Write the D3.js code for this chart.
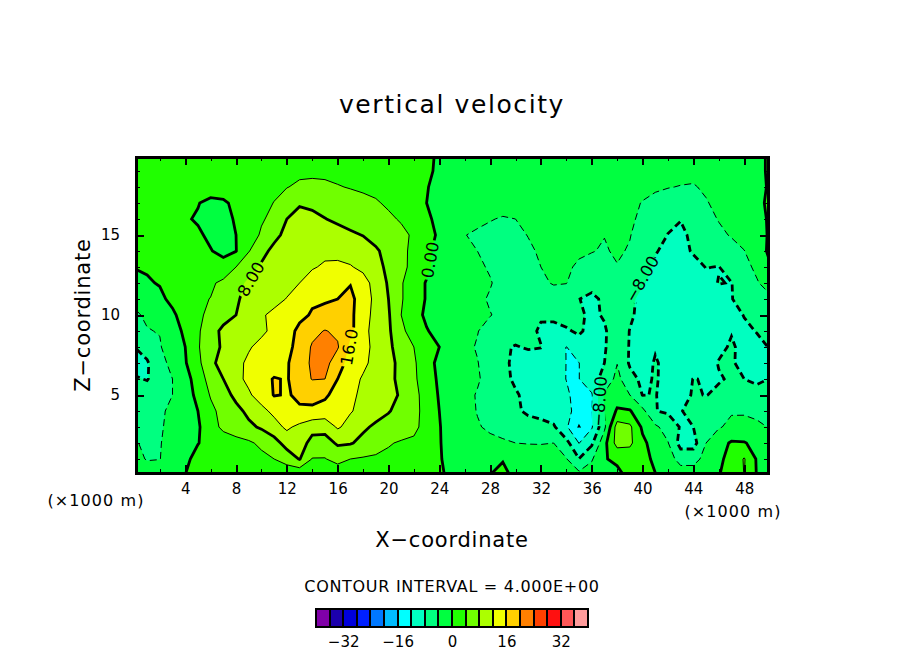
<!DOCTYPE html>
<html>
<head>
<meta charset="utf-8">
<script src="https://cdnjs.cloudflare.com/ajax/libs/d3/7.8.5/d3.min.js"></script>
<style>
	html, body { margin: 0; padding: 0; background: #fff; }
	text { font-family: "DejaVu Sans", sans-serif; fill: #000; }
</style>
</head>
<body>
<div id="chart"></div>
<script>
// vertical velocity, one list per z level (x = 0..50 km)
const w20 = [1.2,1.4,1.5,1.6,1.7,1.8,1.9,2,2.2,2.3,2.4,2.5,2.6,2.7,2.7,2.6,2.5,2.3,2.1,1.9,1.6,1.3,1,0.6,-0.4,-0.8,-1,-1,-1.1,-1.1,-1.2,-1.2,-1.2,-1.2,-1.2,-1.3,-1.3,-1.4,-1.5,-1.6,-1.7,-1.8,-1.8,-1.8,-1.8,-1.7,-1.6,-1.4,-1.1,-0.8,0.4];
const w19 = [1.3,1.5,1.6,1.7,1.8,1.9,2,2.2,2.4,2.6,2.8,3,3.2,3.4,3.4,3.3,3,2.8,2.5,2.2,1.9,1.5,1.1,0.5,-0.5,-1,-1.2,-1.3,-1.4,-1.5,-1.5,-1.5,-1.5,-1.5,-1.5,-1.6,-1.7,-1.8,-2,-2.2,-2.5,-2.8,-3,-3.2,-3.3,-3,-2.6,-2,-1.5,-0.8,0.4];
const w18 = [1,1.1,1.2,1,0.9,1,1.2,1.4,1.8,2.2,2.7,3.2,3.9,4.5,4.7,4.6,4.2,3.8,3.4,3,2.5,1.9,1.3,0.2,-1.1,-1.4,-1.6,-1.7,-1.8,-1.9,-1.9,-1.8,-1.8,-1.8,-1.9,-2,-2.2,-2.4,-2.7,-3,-3.4,-3.7,-3.9,-4.1,-4.2,-3.6,-3,-2.5,-1.8,-0.9,0.3];
const w17 = [0.9,0.9,0.8,0.6,0.3,0.1,-0.6,-0.4,0.6,1.8,3,4.1,5.6,7.7,7.4,6.6,6,5.5,5,4.4,3.4,2.4,1.2,0,-1.3,-1.6,-1.9,-2.1,-2.3,-2.5,-2.5,-2.3,-2.2,-2.1,-2.2,-2.4,-2.7,-3,-3.2,-3.5,-4.1,-4.6,-5.2,-5.6,-5.2,-4.2,-3.3,-2.6,-1.8,-0.7,0.5];
const w16 = [0.8,0.7,0.5,0.3,0.2,-0.2,-1,-0.9,0.3,1.9,3.6,5,8,9,8.7,8.1,7.3,6.8,6.2,5.6,4.7,3.6,2.1,0.8,-1.2,-1.8,-2.4,-3.1,-3.8,-4.3,-4,-3.4,-2.9,-2.6,-2.6,-2.8,-3.1,-3.2,-3.2,-3.6,-4.5,-5.6,-7,-7.9,-7,-5.2,-3.8,-3,-2,-0.9,0.3];
const w15 = [0.6,0.5,0.4,0.2,0.3,0.3,-0.4,-0.9,0,2,4.5,6.8,9.2,10.2,10.3,10,9.4,8.5,7.9,7,6.2,5,3.4,1.4,-0.6,-1.8,-3.9,-4.6,-5,-5.2,-4.7,-3.9,-3.2,-3,-3.2,-3.4,-3.95,-3.95,-3.4,-3.9,-5,-6.3,-8.1,-8.6,-7.4,-6,-4.8,-3.7,-2.6,-1.2,0.3];
const w14 = [0.4,0.3,0.3,0.3,0.4,0.4,0.1,-0.6,-0.1,3.8,6.6,9.2,10.8,11.4,11.6,11.5,11,10.3,9.7,8.4,7,5,3,0.9,-1.3,-2.4,-3.2,-4,-5,-5.6,-5.4,-4.5,-3.6,-3.2,-3.3,-3.6,-3.9,-4.2,-3.7,-4.2,-5.6,-7.8,-8.7,-8.9,-7.7,-6.9,-6.3,-5.4,-4.1,-1.5,0.5];
const w13 = [0.1,0.3,0.6,0.8,0.9,1,1,0.9,4,6.8,8.6,10,10.8,11.2,11.8,12.3,12.7,12.3,11,9.2,7.2,5,2.9,0.9,-1.6,-2.5,-3,-3.5,-4.3,-5.4,-5.6,-5,-4,-3.5,-3.6,-4.4,-4.8,-4.8,-4.1,-4.4,-6.3,-8.5,-9.3,-9.5,-9,-7.9,-8.1,-6.3,-5,-3.3,-0.3];
const w12 = [-0.9,-0.3,0.2,1,1.7,2.5,3.3,5,6.9,8.6,9.7,10.5,11.2,12,13,14,15,15.8,13.7,10.4,7.6,4.3,2.1,-0.3,-1.7,-2.3,-2.7,-3.2,-3.8,-5,-5.7,-5.8,-4.7,-3.7,-3.9,-6,-6.2,-5.2,-5.2,-6,-7.7,-9,-10,-10,-9.6,-8.8,-7.9,-8.1,-6,-4.3,-2.5];
const w11 = [-3.6,-2.6,-0.7,0.8,2,3.3,4.1,6.2,7.6,9,10.2,11.2,12.1,13.5,15.4,15.7,16,17,14,11,8,4.3,2.1,-0.3,-1.6,-2.2,-2.8,-3.4,-4.3,-5.2,-5.6,-5.9,-6,-6,-6.3,-7.9,-9.2,-7,-6.2,-7.2,-9,-10,-10.2,-10.5,-10.3,-9.7,-9.2,-8.1,-7,-5.8,-4.8];
const w10 = [-4.3,-3.7,-2.5,-0.6,1.5,3.3,4.9,6.3,8,10,11.7,12.6,13.4,15,16.4,16.8,17,16.9,13.6,10.8,8.4,4,1.9,-0.9,-1.9,-2.5,-3,-3.5,-3.9,-4.6,-5.4,-6.3,-7.6,-7.4,-7,-7.5,-8.6,-7.7,-6.5,-7.5,-9,-10,-10.4,-10.9,-10.6,-10,-9.5,-8.9,-7.9,-6.6,-5.6];
const w9 = [-5,-4.1,-3.9,-2,0.9,3.5,6.2,9,10,10.8,11.6,12.5,14.3,17,19,20.2,19.3,17,13.2,10.5,8.6,5,2,0.3,-1.5,-2.4,-3.2,-3.9,-5,-6,-6.5,-7,-8.5,-8.8,-8.3,-7.6,-8.9,-8.4,-6,-8.1,-9.2,-10,-10.6,-11.5,-11.2,-10.3,-9.3,-8.2,-8.5,-7.9,-6.8];
const w8 = [-8,-6.5,-4.2,-2.6,0,3.7,6.1,8.7,10,11.8,12.6,13.2,14.8,17.5,20.4,21.5,20.4,15,13.2,11,8.9,6,4,1.9,0,-2,-3.4,-4.2,-5.4,-7.6,-8.2,-7.7,-7.9,-9.2,-12.1,-9.2,-9,-8.3,-6,-8.2,-9.2,-8.2,-8.3,-11.8,-11.5,-10,-8.8,-7.6,-8.9,-8.6,-7.9];
const w7 = [-9.4,-8.4,-5.2,-3,-0.3,3,7,9.6,11.4,12.4,13,13.6,15.6,18.2,20.6,21.5,17.5,14.7,12.8,10.8,9.1,7,4.5,1.7,-1.1,-2.3,-3.2,-3.9,-5.2,-7.2,-8.8,-9.5,-9.7,-10.2,-12.05,-12.05,-9.7,-8,-4.1,-8.5,-9,-7.8,-8.6,-10.2,-10.8,-9.6,-7.8,-7.7,-8.8,-9,-8.7];
const w6 = [-7.6,-8.2,-6,-4,-1.5,1.8,5.6,8,11,12.8,14.4,16.3,15.7,18,20.2,20,16,13.4,11.6,10.2,8.9,7.1,4.7,1.8,-0.6,-2.2,-3,-3.7,-5,-7,-8.6,-9.8,-10.4,-10.9,-12.05,-12.05,-9.6,-6.7,-2.9,-6.7,-8.8,-7.7,-9,-9.8,-7.9,-8.2,-8.3,-7.6,-8,-8.8,-7.9];
const w5 = [-5.4,-6.2,-5,-4,-1.8,1,4.3,6.4,9,11.5,13.6,16.2,15.8,16.4,16.5,16.6,14.6,12.8,11.2,9.9,8.8,7.7,5.3,2.2,-0.3,-2.2,-3.2,-4.2,-5.4,-6.3,-7.6,-9,-10,-10.8,-11.6,-13,-12.4,-3.4,-2,-4,-8.1,-7.9,-8.8,-9.2,-7.7,-8.1,-7.3,-7.7,-7,-6.5,-6];
const w4 = [-5.4,-5.5,-4.6,-3.2,-1.6,0,3.1,5.2,6.9,8.9,11,12.9,14.6,15.7,15.7,14.5,13.6,12.3,10.8,9.4,8.2,7,5.1,2.7,0,-2,-3.2,-4.1,-5.3,-6.2,-7.2,-8.9,-9.7,-10.2,-11,-13.4,-12.3,-4,0.5,0.3,-3,-7.9,-8.5,-8.2,-6.8,-6.3,-5.5,-4.3,-4.5,-5,-5.2];
const w3 = [-4.8,-4.9,-4.4,-3,-1.8,-0.5,2.5,4.8,6,7.2,8.5,10.6,12.7,11,9,9.3,12.5,10.6,8.6,7.4,6.8,6,4.9,2.6,0.2,-1.8,-3,-3.8,-4.4,-4.8,-5.2,-5.8,-6.4,-7.5,-11.5,-16.05,-12.4,-4.8,5.8,4.8,-0.7,-3.3,-5.6,-8.3,-8,-5.8,-4.3,-3.2,-2.6,-3.2,-4.2];
const w2 = [-3.7,-4.6,-4.2,-2.6,-1.5,-0.1,1,2,2.7,3.4,4.8,6.4,9.6,9.4,7,6.5,8.5,8.3,7,5.6,4.3,3.6,3.3,2.2,0.2,-1.3,-2.4,-3,-3.4,-3.7,-4,-4.1,-4.1,-4,-6.8,-12.1,-8.7,-1.2,5.6,4.8,0.9,-1.8,-3.8,-9.5,-9.5,-4,-1.4,0.4,0.2,-0.9,-1.6];
const w1 = [-2.6,-4.3,-4.1,-2,-0.6,0.9,1.4,1.7,2,2.4,3,4,5.6,8.2,3.8,3.8,5.4,4,3.6,3.4,3.2,3.1,2.8,1.8,0.2,-0.8,-1.5,-1.4,-0.9,-0.2,-1.8,-2.6,-3,-3.2,-3.8,-7.9,-4.4,-0.1,0.3,1.6,1,-0.6,-2.2,-5.5,-5.5,-2.6,-0.6,1,4.3,-0.4,-1];
const w0 = [-1,-1.4,-1.2,-0.8,0,0.8,1,1.1,1.2,1.4,1.6,2,1.2,0.5,2,2.5,1,2.4,2.2,2.2,2,1.8,1.6,1,0.2,-0.3,-0.5,-0.6,0,0.8,-0.7,-1,-1.2,-1.4,-1.8,-2.8,-2,-0.6,-0.4,0.4,0.6,0.1,-0.8,-1.8,-1.8,-1.2,-0.1,1,4.1,-0.2,-0.5];

const rows = [w20, w19, w18, w17, w16, w15, w14, w13, w12, w11, w10, w9, w8, w7, w6, w5, w4, w3, w2, w1, w0];

const xTicks = [4, 8, 12, 16, 20, 24, 28, 32, 36, 40, 44, 48];
const xMinorTicks = [2, 6, 10, 14, 18, 22, 26, 30, 34, 38, 42, 46];
const zTicks = [5, 10, 15];
const zMinorTicks = [1, 2, 3, 4, 6, 7, 8, 9, 11, 12, 13, 14, 16, 17, 18, 19];

// colour of each band, lowest level first
const levels = [-40, -36, -32, -28, -24, -20, -16, -12, -8, -4, 0, 4, 8, 12, 16, 20, 24, 28, 32, 36];
const bandColors = ['#8000a8', '#1c00ac', '#0000dc', '#0020ff', '#0078ff', '#00bcff', '#00ffff', '#00ffc0', '#00ff80', '#00ff40', '#20ff00', '#70ff00', '#acff00', '#f0ff00', '#ffd000', '#ff8000', '#ff4000', '#ff1010', '#ff5858', '#ff9c9c'];
const legendTicks = [-32, -16, 0, 16, 32];

// contour labels
const labelText = ['8.00', '16.0', '0.00', '\u22128.00', '\u22128.00'];
const labelX = [9.17, 16.9, 23.27, 39.96, 36.6];
const labelZ = [12.25, 8, 13.44, 12.25, 4.6];
const labelAngle = [-60, -80, -80, -60, -86];

const width = 904;
const height = 654;
const margin = { top: 157, right: 136, bottom: 181, left: 136 };

const svg = d3.select('#chart').append('svg').attr('width', width).attr('height', height).style('display', 'block');

const xScale = d3.scaleLinear().domain([0.125, 49.875]).range([margin.left, width - margin.right]);
const zScale = d3.scaleLinear().domain([0.125, 19.875]).range([height - margin.bottom, margin.top]);

const defs = svg.append('defs');
defs.append('clipPath').attr('id', 'plotClip').append('rect')
	.attr('x', margin.left).attr('y', margin.top)
	.attr('width', width - margin.left - margin.right)
	.attr('height', height - margin.top - margin.bottom);

// contours work on grid cells, a value sits in the middle of its cell
const nx = rows[0].length;
const nz = rows.length;
const values = rows.flat();
const contours = d3.contours().size([nx, nz]).thresholds(levels)(values);

const path = d3.geoPath(d3.geoTransform({
	point(gx, gy) {
		this.stream.point(xScale(gx - 0.5), zScale(20 - (gy - 0.5)));
	}
}));

const plot = svg.append('g').attr('clip-path', 'url(#plotClip)');

// fills
plot.selectAll('path.band')
	.data(contours)
	.join('path')
	.attr('class', 'band')
	.attr('d', path)
	.attr('fill', (d, i) => bandColors[i]);

// gaps in the lines behind the labels
const mask = defs.append('mask').attr('id', 'labelGaps').attr('maskUnits', 'userSpaceOnUse')
	.attr('x', 0).attr('y', 0).attr('width', width).attr('height', height);
mask.append('rect').attr('width', width).attr('height', height).attr('fill', '#fff');
labelText.forEach((t, i) => {
	const w = t.length * 9.5 + 2;
	mask.append('rect')
		.attr('x', -w / 2).attr('y', -7).attr('width', w).attr('height', 14)
		.attr('transform', `translate(${xScale(labelX[i])},${zScale(labelZ[i])}) rotate(${labelAngle[i]})`)
		.attr('fill', '#000');
});

const minValue = d3.min(values);
const lines = plot.append('g').attr('mask', 'url(#labelGaps)');
lines.selectAll('path.line')
	.data(contours.filter((d) => d.value > minValue))
	.join('path')
	.attr('class', 'line')
	.attr('d', path)
	.attr('fill', 'none')
	.attr('stroke', '#000')
	.attr('stroke-width', (d) => (d.value % 8 === 0 ? 2.8 : 1))
	.attr('stroke-dasharray', (d) => (d.value < 0 ? '7,4' : null));

// contour labels
labelText.forEach((t, i) => {
	svg.append('text')
		.attr('transform', `translate(${xScale(labelX[i])},${zScale(labelZ[i])}) rotate(${labelAngle[i]})`)
		.attr('text-anchor', 'middle')
		.attr('dy', '0.36em')
		.style('font-size', '16.5px')
		.text(t);
});

// frame and ticks
const axisStyle = (g) => {
	g.select('.domain').remove();
	g.selectAll('line').attr('stroke', '#000').attr('stroke-width', 2).attr('shape-rendering', 'crispEdges');
	g.selectAll('text').style('font-size', '15px');
};
const minorStyle = (g) => {
	g.select('.domain').remove();
	g.selectAll('line').attr('stroke', '#000').attr('stroke-width', 1).attr('shape-rendering', 'crispEdges');
	g.selectAll('text').remove();
};
const bottomY = height - margin.bottom;
const rightX = width - margin.right;

svg.append('g').attr('transform', `translate(0,${bottomY})`)
	.call(d3.axisBottom(xScale).tickValues(xTicks).tickSize(-8).tickPadding(10).tickFormat(d3.format('d')))
	.call(axisStyle);
svg.append('g').attr('transform', `translate(0,${margin.top})`)
	.call(d3.axisTop(xScale).tickValues(xTicks).tickSize(-8).tickFormat(''))
	.call(axisStyle);
svg.append('g').attr('transform', `translate(${margin.left},0)`)
	.call(d3.axisLeft(zScale).tickValues(zTicks).tickSize(-8).tickPadding(16).tickFormat(d3.format('d')))
	.call(axisStyle);
svg.append('g').attr('transform', `translate(${rightX},0)`)
	.call(d3.axisRight(zScale).tickValues(zTicks).tickSize(-8).tickFormat(''))
	.call(axisStyle);

svg.append('g').attr('transform', `translate(0,${bottomY})`)
	.call(d3.axisBottom(xScale).tickValues(xMinorTicks).tickSize(-4)).call(minorStyle);
svg.append('g').attr('transform', `translate(0,${margin.top})`)
	.call(d3.axisTop(xScale).tickValues(xMinorTicks).tickSize(-4)).call(minorStyle);
svg.append('g').attr('transform', `translate(${margin.left},0)`)
	.call(d3.axisLeft(zScale).tickValues(zMinorTicks).tickSize(-4)).call(minorStyle);
svg.append('g').attr('transform', `translate(${rightX},0)`)
	.call(d3.axisRight(zScale).tickValues(zMinorTicks).tickSize(-4)).call(minorStyle);

svg.append('rect')
	.attr('x', margin.left).attr('y', margin.top)
	.attr('width', rightX - margin.left).attr('height', bottomY - margin.top)
	.attr('fill', 'none').attr('stroke', '#000').attr('stroke-width', 3)
	.attr('shape-rendering', 'crispEdges');

// titles
svg.append('text').attr('x', 452).attr('y', 113).attr('text-anchor', 'middle')
	.style('font-size', '25px').style('letter-spacing', '1.6px').text('vertical velocity');
svg.append('text').attr('x', 452).attr('y', 547).attr('text-anchor', 'middle')
	.style('font-size', '21px').style('letter-spacing', '0.8px').text('X\u2212coordinate');
svg.append('text').attr('transform', 'translate(90,315) rotate(-90)').attr('text-anchor', 'middle')
	.style('font-size', '21px').style('letter-spacing', '0.8px').text('Z\u2212coordinate');
svg.append('text').attr('x', 96).attr('y', 506).attr('text-anchor', 'middle')
	.style('font-size', '16px').style('letter-spacing', '1.1px').text('(\u00d71000 m)');
svg.append('text').attr('x', 733).attr('y', 517).attr('text-anchor', 'middle')
	.style('font-size', '16px').style('letter-spacing', '1.1px').text('(\u00d71000 m)');
svg.append('text').attr('x', 452).attr('y', 592).attr('text-anchor', 'middle')
	.style('font-size', '16px').style('letter-spacing', '0.7px').text('CONTOUR INTERVAL = 4.000E+00');

// colour key
const legendScale = d3.scaleLinear().domain([-40, 40]).range([316, 588]);
const legend = svg.append('g');
legend.selectAll('rect')
	.data(levels)
	.join('rect')
	.attr('x', (d) => legendScale(d))
	.attr('y', 609)
	.attr('width', (d) => legendScale(d + 4) - legendScale(d))
	.attr('height', 18)
	.attr('fill', (d, i) => bandColors[i])
	.attr('stroke', '#000')
	.attr('stroke-width', 2)
	.attr('shape-rendering', 'crispEdges');
svg.append('g').attr('transform', 'translate(0,627)')
	.call(d3.axisBottom(legendScale).tickValues(legendTicks).tickSize(0).tickPadding(9).tickFormat((d) => String(d).replace('-', '\u2212')))
	.call((g) => {
		g.select('.domain').remove();
		g.selectAll('text').style('font-size', '15px');
	});
</script>
</body>
</html>
